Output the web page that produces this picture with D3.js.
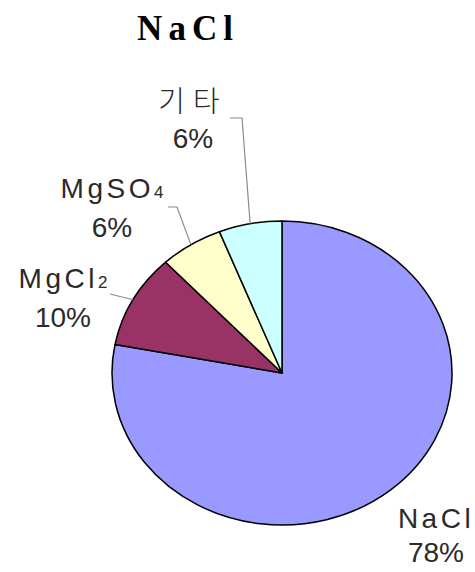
<!DOCTYPE html>
<html>
<head>
<meta charset="utf-8">
<script src="https://cdn.jsdelivr.net/npm/d3@7"></script>
<style>
  html, body { margin: 0; padding: 0; background: #fff; }
  svg { display: block; }
</style>
</head>
<body>
<svg id="chart" width="475" height="572"></svg>
<script>
// ---- data ----
const title = "NaCl";
const categories = ["NaCl", "MgCl2", "MgSO4", "기타"];
const nameMain = ["NaCl", "MgCl", "MgSO", "기타"];
const nameSub = ["", "2", "4", ""];
const values = [78, 10, 6, 6];
const colors = ["#9999FF", "#993366", "#FFFFCC", "#CCFFFF"];

// ---- layout (label placement, not data) ----
const labelLayout = [
  { x: 436, y1: 528, y2: 562, elbow: null },
  { x: 63,  y1: 288, y2: 327, elbow: [110, 294] },
  { x: 112, y1: 198, y2: 237, elbow: [177, 207], end: [168, 207] },
  { x: 193, y1: 112, y2: 148, elbow: [242, 118], end: [230, 118] }
];

const svg = d3.select("#chart");
const cx = 282, cy = 373, rx = 170, ry = 152;

svg.append("text")
  .attr("x", 188).attr("y", 40)
  .attr("text-anchor", "middle")
  .attr("font-family", "'Liberation Serif', 'Times New Roman', serif")
  .attr("font-weight", "bold")
  .attr("font-size", 35)
  .attr("letter-spacing", "6px")
  .attr("fill", "#000")
  .text(title);

const pie = d3.pie().sort(null).value(d => d)(values);
const arc = d3.arc().innerRadius(0).outerRadius(ry);

const g = svg.append("g")
  .attr("transform", `translate(${cx},${cy}) scale(${rx / ry},1)`);

g.selectAll("path.slice")
  .data(pie)
  .enter().append("path")
  .attr("class", "slice")
  .attr("d", arc)
  .attr("fill", (d, i) => colors[i])
  .attr("stroke", "#000")
  .attr("stroke-width", 1.5)
  .attr("vector-effect", "non-scaling-stroke")
  .attr("stroke-linejoin", "round");

// leader lines from slice edge at mid-angle
pie.forEach((d, i) => {
  const L = labelLayout[i];
  if (!L.elbow) return;
  const a = (d.startAngle + d.endAngle) / 2;
  const ex = cx + rx * Math.sin(a);
  const ey = cy - ry * Math.cos(a);
  const pts = [[ex, ey], L.elbow];
  if (L.end) pts.push(L.end);
  svg.append("path")
    .attr("d", d3.line()(pts))
    .attr("fill", "none")
    .attr("stroke", "#8a8a8a")
    .attr("stroke-width", 1.2);
});

// labels
pie.forEach((d, i) => {
  const L = labelLayout[i];
  const isKo = /[\uAC00-\uD7AF]/.test(nameMain[i]);
  const t = svg.append("text")
    .attr("x", L.x).attr("y", L.y1)
    .attr("text-anchor", "middle")
    .attr("font-family", isKo ? "'Noto Sans CJK KR', sans-serif" : "'Liberation Sans', Arial, sans-serif")
    .attr("font-size", isKo ? 29 : 28)
    .attr("font-weight", isKo ? 300 : 400)
    .attr("letter-spacing", isKo ? "8px" : "3.5px")
    .attr("fill", "#2a2a2a");
  t.append("tspan").text(nameMain[i]);
  if (nameSub[i]) t.append("tspan").attr("font-size", 17).attr("letter-spacing", "0px").text(nameSub[i]);
  svg.append("text")
    .attr("x", L.x).attr("y", L.y2)
    .attr("text-anchor", "middle")
    .attr("font-family", "'Liberation Sans', Arial, sans-serif")
    .attr("font-size", 28)
    .attr("fill", "#2a2a2a")
    .text(Math.round(d.value / d3.sum(values) * 100) + "%");
});
</script>
</body>
</html>
